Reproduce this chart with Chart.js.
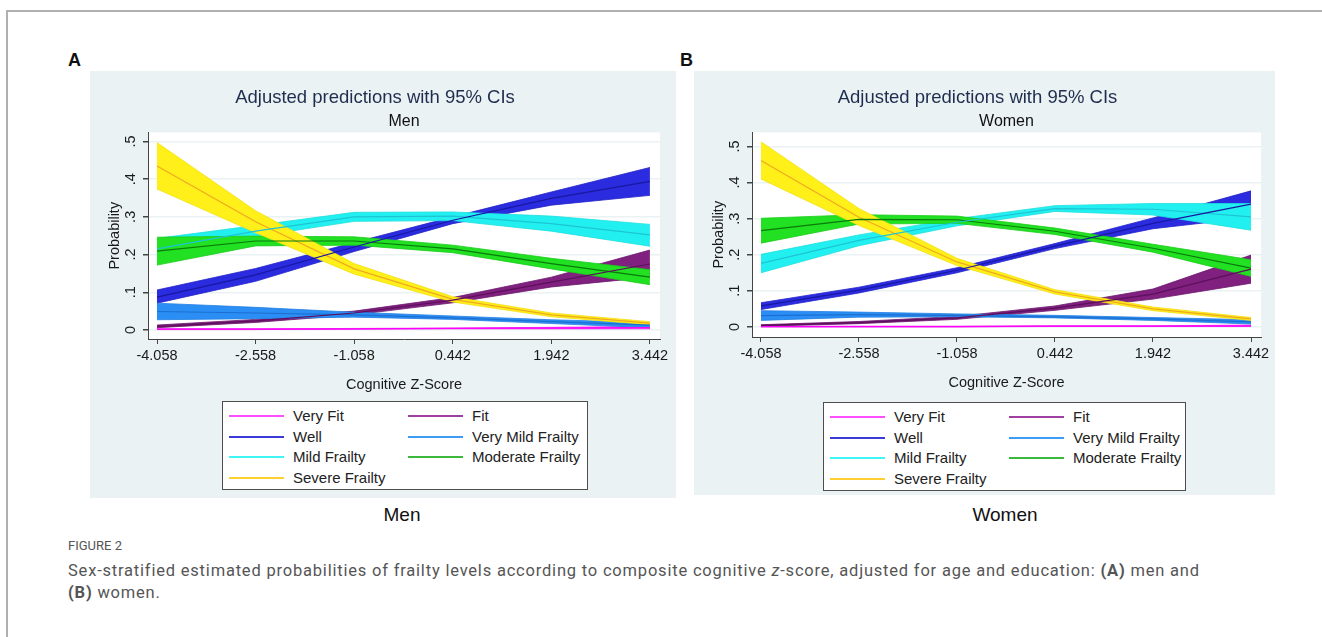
<!DOCTYPE html>
<html>
<head>
<meta charset="utf-8">
<script src="https://cdn.jsdelivr.net/npm/chart.js@4.4.1/dist/chart.umd.min.js"></script>
<style>
  body { margin: 0; width: 1322px; height: 637px; overflow: hidden; position: relative; background: #fff; font-family: "Liberation Sans", Arial, sans-serif; }
  .frame { position: absolute; left: 6px; top: 10px; width: 1400px; height: 700px; border: 2px solid #b0b0b0; }
  .tag { position: absolute; font-weight: bold; font-size: 18px; line-height: 20px; color: #111; }
  .panel { position: absolute; background: #eaf2f3; }
  .panel canvas { position: absolute; left: 0; top: 0; }
  .legend { position: absolute; background: #fff; border: 1px solid #4d4d4d; box-sizing: border-box; }
  .item { position: absolute; height: 18px; font-size: 15px; line-height: 18px; color: #222; white-space: nowrap; }
  .item i { position: absolute; left: 0; top: 8px; width: 55px; height: 2px; }
  .item span { position: absolute; left: 64px; top: 0; }
  .under { position: absolute; width: 200px; text-align: center; font-size: 19px; line-height: 22px; color: #111; }
  .fig { position: absolute; left: 68px; top: 538px; font-family: Roboto, sans-serif; font-size: 13px; color: #555; }
  .cap { position: absolute; left: 68px; top: 560px; width: 1240px; font-family: Roboto, sans-serif; font-size: 16.5px; letter-spacing: 0.8px; line-height: 22px; color: #555; }
</style>
</head>
<body>
<div class="frame"></div>
<div class="tag" style="left:68px;top:50px">A</div>
<div class="tag" style="left:680px;top:50px">B</div>

<div class="panel" id="panelA" style="left:90px;top:71px;width:586px;height:427px">
  <canvas id="menChart" width="586" height="427"></canvas>
  <div class="legend" id="legendA" style="left:132px;top:330px;width:366px;height:89px"></div>
</div>
<div class="panel" id="panelB" style="left:694px;top:71px;width:581px;height:424px">
  <canvas id="womenChart" width="581" height="424"></canvas>
  <div class="legend" id="legendB" style="left:129px;top:331px;width:363px;height:89px"></div>
</div>

<div class="under" style="left:302px;top:504px">Men</div>
<div class="under" style="left:905px;top:504px">Women</div>

<div class="fig">FIGURE 2</div>
<div class="cap">Sex-stratified estimated probabilities of frailty levels according to composite cognitive <i>z</i>-score, adjusted for age and education: <b>(A)</b> men and<br><b>(B)</b> women.</div>

<script>
const zScores = [-4.058, -2.558, -1.058, 0.442, 1.942, 3.442]
const categories = ['Very Fit', 'Fit', 'Well', 'Very Mild Frailty', 'Mild Frailty', 'Moderate Frailty', 'Severe Frailty']
const yTicks = [0, 0.1, 0.2, 0.3, 0.4, 0.5]

// men: estimate, lower and upper 95% CI
const menVeryFit   = [0.002, 0.002, 0.003, 0.004, 0.005, 0.006]
const menVeryFitLo = [0.001, 0.001, 0.002, 0.003, 0.003, 0.003]
const menVeryFitHi = [0.003, 0.003, 0.004, 0.005, 0.007, 0.009]
const menFit   = [0.009, 0.024, 0.045, 0.079, 0.127, 0.175]
const menFitLo = [0.006, 0.020, 0.040, 0.072, 0.114, 0.140]
const menFitHi = [0.013, 0.028, 0.050, 0.086, 0.140, 0.212]
const menWell   = [0.087, 0.146, 0.220, 0.291, 0.349, 0.394]
const menWellLo = [0.071, 0.129, 0.208, 0.282, 0.331, 0.357]
const menWellHi = [0.106, 0.163, 0.232, 0.300, 0.366, 0.431]
const menVeryMild   = [0.049, 0.045, 0.040, 0.032, 0.022, 0.013]
const menVeryMildLo = [0.027, 0.030, 0.034, 0.028, 0.017, 0.006]
const menVeryMildHi = [0.071, 0.060, 0.047, 0.037, 0.027, 0.020]
const menMild   = [0.215, 0.262, 0.300, 0.302, 0.282, 0.252]
const menMildLo = [0.190, 0.248, 0.288, 0.290, 0.262, 0.222]
const menMildHi = [0.243, 0.277, 0.312, 0.313, 0.302, 0.280]
const menModerate   = [0.209, 0.236, 0.236, 0.215, 0.176, 0.140]
const menModerateLo = [0.172, 0.223, 0.225, 0.205, 0.162, 0.120]
const menModerateHi = [0.246, 0.249, 0.247, 0.225, 0.190, 0.160]
const menSevere   = [0.435, 0.287, 0.162, 0.081, 0.040, 0.018]
const menSevereLo = [0.374, 0.258, 0.148, 0.074, 0.035, 0.014]
const menSevereHi = [0.497, 0.316, 0.176, 0.088, 0.045, 0.022]

// women
const womenVeryFit   = [0.001, 0.001, 0.001, 0.002, 0.002, 0.003]
const womenVeryFitLo = [0.000, 0.000, 0.000, 0.001, 0.001, 0.001]
const womenVeryFitHi = [0.002, 0.002, 0.002, 0.003, 0.003, 0.005]
const womenFit   = [0.004, 0.012, 0.025, 0.052, 0.091, 0.160]
const womenFitLo = [0.002, 0.009, 0.021, 0.046, 0.077, 0.121]
const womenFitHi = [0.006, 0.015, 0.029, 0.058, 0.105, 0.199]
const womenWell   = [0.058, 0.102, 0.157, 0.224, 0.287, 0.340]
const womenWellLo = [0.048, 0.094, 0.150, 0.217, 0.272, 0.303]
const womenWellHi = [0.067, 0.110, 0.164, 0.231, 0.302, 0.377]
const womenVeryMild   = [0.031, 0.034, 0.032, 0.028, 0.022, 0.014]
const womenVeryMildLo = [0.018, 0.027, 0.028, 0.025, 0.018, 0.008]
const womenVeryMildHi = [0.045, 0.041, 0.036, 0.032, 0.026, 0.020]
const womenMild   = [0.176, 0.240, 0.290, 0.328, 0.326, 0.305]
const womenMildLo = [0.150, 0.225, 0.280, 0.320, 0.310, 0.268]
const womenMildHi = [0.201, 0.255, 0.300, 0.336, 0.342, 0.342]
const womenModerate   = [0.267, 0.298, 0.297, 0.265, 0.218, 0.163]
const womenModerateLo = [0.232, 0.285, 0.287, 0.256, 0.207, 0.140]
const womenModerateHi = [0.301, 0.311, 0.307, 0.274, 0.229, 0.186]
const womenSevere   = [0.461, 0.304, 0.180, 0.097, 0.050, 0.022]
const womenSevereLo = [0.410, 0.281, 0.170, 0.091, 0.045, 0.018]
const womenSevereHi = [0.513, 0.328, 0.190, 0.103, 0.055, 0.026]

const menSeries = [
    [menVeryFit, menVeryFitLo, menVeryFitHi], [menFit, menFitLo, menFitHi], [menWell, menWellLo, menWellHi],
    [menVeryMild, menVeryMildLo, menVeryMildHi], [menMild, menMildLo, menMildHi],
    [menModerate, menModerateLo, menModerateHi], [menSevere, menSevereLo, menSevereHi]
]
const womenSeries = [
    [womenVeryFit, womenVeryFitLo, womenVeryFitHi], [womenFit, womenFitLo, womenFitHi], [womenWell, womenWellLo, womenWellHi],
    [womenVeryMild, womenVeryMildLo, womenVeryMildHi], [womenMild, womenMildLo, womenMildHi],
    [womenModerate, womenModerateLo, womenModerateHi], [womenSevere, womenSevereLo, womenSevereHi]
]

const bandColors  = ['#ff40ff', '#80207f', '#2b2be0', '#2b8ef5', '#22f0f0', '#22e022', '#fff01a']
const bandEdges   = ['#e020e0', '#6a1569', '#2222c8', '#2480e0', '#1ddede', '#1ccc1c', '#f2e010']
const lineColors  = ['#ff00ff', '#5c0f5c', '#1818a0', '#1c6fd0', '#1cc4d4', '#0a7a0a', '#f0a820']
const legendColors = ['#ff4dff', '#a040a0', '#3a3ad8', '#3d9df5', '#3ff5f5', '#3cb93c', '#ffcf30']

const FONT = '"Liberation Sans", Arial, sans-serif'

const plotBg = {
    id: 'plotBg',
    beforeDraw(chart) {
        const ctx = chart.ctx
        const a = chart.chartArea
        ctx.save()
        ctx.fillStyle = '#eaf2f3'
        ctx.fillRect(0, 0, chart.width, chart.height)
        ctx.fillStyle = '#ffffff'
        ctx.fillRect(a.left, a.top, a.right - a.left, a.bottom - a.top)
        ctx.restore()
    }
}

function points(values) {
    return zScores.map((x, k) => ({ x: x, y: values[k] }))
}

function buildDatasets(series) {
    let ds = []
    series.forEach((s, i) => {
        let order = categories.length - i
        ds.push({ data: points(s[2]), borderColor: bandEdges[i], borderWidth: 0.8, pointRadius: 0, fill: false, tension: 0, order: order })
        ds.push({ data: points(s[1]), borderColor: bandEdges[i], borderWidth: 0.8, pointRadius: 0, backgroundColor: bandColors[i], fill: '-1', tension: 0, order: order })
    })
    series.forEach((s, i) => {
        ds.push({ data: points(s[0]), borderColor: lineColors[i], borderWidth: 1.2, pointRadius: 0, fill: false, tension: 0, order: 0 })
    })
    return ds
}

function makeChart(id, series, subtitle, yMin, yMax, padRight, padBottom) {
    new Chart(document.getElementById(id), {
        type: 'line',
        data: { datasets: buildDatasets(series) },
        options: {
            responsive: false,
            animation: false,
            layout: { padding: { left: 0, top: 0, right: padRight, bottom: padBottom } },
            plugins: {
                legend: { display: false },
                tooltip: { enabled: false },
                title: {
                    display: true, text: 'Adjusted predictions with 95% CIs', color: '#1f2d4f',
                    font: { family: FONT, size: 18.5, weight: 'normal' }, padding: { top: 16, bottom: 0 }
                },
                subtitle: {
                    display: true, text: subtitle, fullSize: false, color: '#111',
                    font: { family: FONT, size: 16 }, padding: { top: 2.5, bottom: 1.5 }
                }
            },
            scales: {
                x: {
                    type: 'linear', min: -4.195, max: 3.595,
                    afterBuildTicks: s => { s.ticks = zScores.map(v => ({ value: v })) },
                    afterFit: s => { s.height = 56 },
                    ticks: { callback: v => v.toFixed(3), color: '#1a1a1a', font: { family: FONT, size: 14.5 }, padding: 3, maxRotation: 0, autoSkip: false },
                    grid: { drawOnChartArea: false, tickLength: 5, tickColor: '#444' },
                    border: { color: '#444', width: 1 },
                    title: { display: true, text: 'Cognitive Z-Score', color: '#1a1a1a', font: { family: FONT, size: 14.5 }, padding: { top: 0, bottom: 1 } }
                },
                y: {
                    type: 'linear', min: yMin, max: yMax,
                    afterBuildTicks: s => { s.ticks = yTicks.map(v => ({ value: v })) },
                    afterFit: s => { s.width = 58 },
                    ticks: {
                        callback: v => v === 0 ? '0' : v.toFixed(1).replace(/^0/, ''),
                        color: '#1a1a1a', font: { family: FONT, size: 14.5 },
                        minRotation: 90, maxRotation: 90, crossAlign: 'center', padding: 6
                    },
                    grid: { color: '#eaf2f3', lineWidth: 1.5, tickLength: 5, tickColor: '#444' },
                    border: { color: '#444', width: 1 },
                    title: { display: true, text: 'Probability', color: '#1a1a1a', font: { family: FONT, size: 14.5 }, padding: { top: 16, bottom: 0 } }
                }
            }
        },
        plugins: [plotBg]
    })
}

function buildLegend(id) {
    let box = document.getElementById(id)
    categories.forEach((name, i) => {
        let row = Math.floor(i / 2)
        let col = i % 2
        let item = document.createElement('div')
        item.className = 'item'
        item.style.left = (col ? 185 : 6) + 'px'
        item.style.top = (5 + row * 20.7) + 'px'
        item.innerHTML = '<i style="background:' + legendColors[i] + '"></i><span>' + name + '</span>'
        box.appendChild(item)
    })
}

makeChart('menChart', menSeries, 'Men', -0.024, 0.524, 16, 103)
makeChart('womenChart', womenSeries, 'Women', -0.028, 0.539, 14, 102)
buildLegend('legendA')
buildLegend('legendB')
</script>
</body>
</html>
